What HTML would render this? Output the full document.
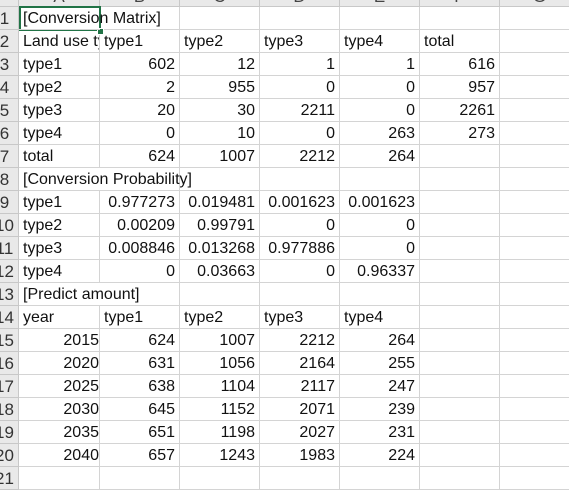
<!DOCTYPE html>
<html><head><meta charset="utf-8">
<style>
body{margin:0;width:569px;height:484px;overflow:hidden;background:#fff;font-family:"Liberation Sans","Noto Sans CJK SC",sans-serif;}
#sheet{position:absolute;left:0;top:0;width:569px;height:484px;}
.c{position:absolute;box-sizing:border-box;border-right:1px solid #d4d4d4;border-bottom:1px solid #d4d4d4;font-size:16px;line-height:23px;white-space:nowrap;overflow:visible;color:#111;padding:0 4px;}
.r{text-align:right;}
.clip{overflow:hidden;}
.hd{position:absolute;box-sizing:border-box;background:#e9e9e9;border-right:1px solid #c8c8c8;border-bottom:1px solid #c8c8c8;font-size:17px;color:#444;overflow:hidden;}
#sel{position:absolute;left:19px;top:6px;width:82px;height:25px;box-sizing:border-box;border:2px solid #217346;}
#handle{position:absolute;left:97px;top:28px;width:5px;height:5px;background:#217346;border:1px solid #fff;}
</style></head><body>
<div id="sheet"></div>
<script>
const colX=[19,100,180,260,340,420,500,580];
const colLetters=['A','B','C','D','E','F','G'];
const rowTop=7,rowH=23,nRows=21;
const rows=[
 ['[Conversion Matrix]'],
 ['Land use type','type1','type2','type3','type4','total'],
 ['type1',602,12,1,1,616],
 ['type2',2,955,0,0,957],
 ['type3',20,30,2211,0,2261],
 ['type4',0,10,0,263,273],
 ['total',624,1007,2212,264],
 ['[Conversion Probability]'],
 ['type1',0.977273,0.019481,0.001623,0.001623],
 ['type2',0.00209,0.99791,0,0],
 ['type3',0.008846,0.013268,0.977886,0],
 ['type4',0,0.03663,0,0.96337],
 ['[Predict amount]'],
 ['year','type1','type2','type3','type4'],
 [2015,624,1007,2212,264],
 [2020,631,1056,2164,255],
 [2025,638,1104,2117,247],
 [2030,645,1152,2071,239],
 [2035,651,1198,2027,231],
 [2040,657,1243,1983,224],
 []
];
const s=document.getElementById('sheet');
for(let j=0;j<7;j++){
 const h=document.createElement('div');h.className='hd';
 
 
 h.style.left=colX[j]+'px';h.style.top='-10px';h.style.width=(colX[j+1]-colX[j])+'px';h.style.height='17px';
 h.style.textAlign='center';h.style.lineHeight='14px';h.textContent=colLetters[j];
 s.appendChild(h);
}
const corner=document.createElement('div');corner.className='hd';


corner.style.left='-1px';corner.style.top='-10px';corner.style.width='20px';corner.style.height='17px';
s.appendChild(corner);
for(let i=0;i<nRows;i++){
 const y=rowTop+i*rowH;
 const rh=document.createElement('div');rh.className='hd';
 
 
 rh.style.left='-9px';rh.style.top=y+'px';rh.style.width='28px';rh.style.height=rowH+'px';
 rh.style.textAlign='center';rh.style.lineHeight='23px';rh.style.color='#333';
 rh.textContent=(i+1);
 s.appendChild(rh);
 const data=rows[i]||[];
 for(let j=0;j<7;j++){
  const c=document.createElement('div');c.className='c';
  
  
  c.style.left=colX[j]+'px';c.style.top=y+'px';c.style.width=(colX[j+1]-colX[j])+'px';c.style.height=rowH+'px';
  const v=data[j];
  if(v!==undefined){
   if(typeof v==='number'){c.classList.add('r');}
   c.textContent=String(v);
   if(data.length===1){c.style.zIndex=2;c.style.borderRight='none';}
   else if(j===0 && data[1]!==undefined){c.classList.add('clip');c.style.paddingRight='0';}
  }
  s.appendChild(c);
 }
}
const sel=document.createElement('div');sel.id='sel';


s.appendChild(sel);
const hd=document.createElement('div');hd.id='handle';


s.appendChild(hd);
</script>
</body></html>
